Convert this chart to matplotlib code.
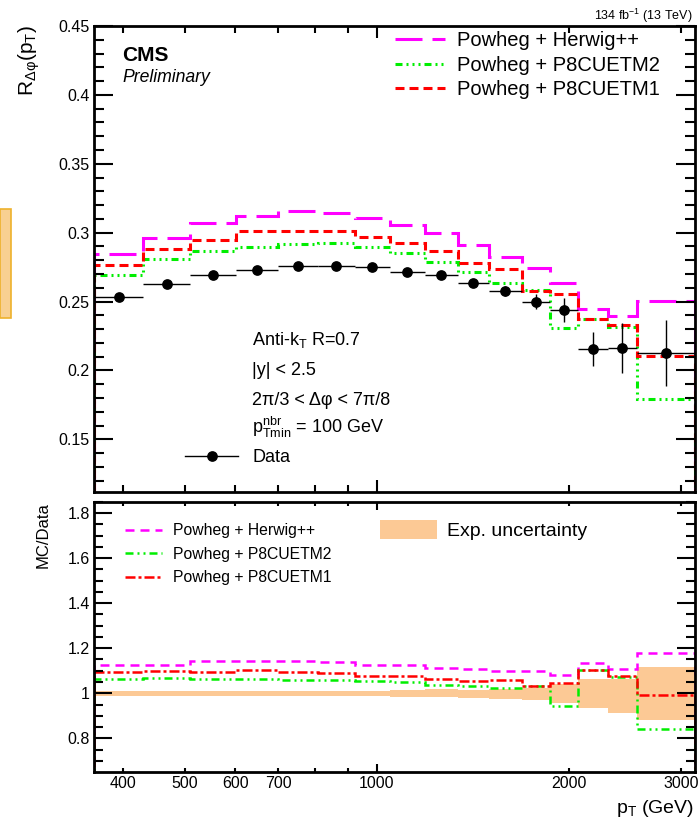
import matplotlib.pyplot as plt
import numpy as np
from matplotlib.lines import Line2D
from matplotlib.patches import Patch, Rectangle
from matplotlib.ticker import FixedLocator, FuncFormatter, MultipleLocator

plt.rcParams['font.family'] = ['Liberation Sans', 'DejaVu Sans']
plt.rcParams['mathtext.fontset'] = 'custom'
plt.rcParams['mathtext.rm'] = 'Liberation Sans'
plt.rcParams['mathtext.it'] = 'Liberation Sans:italic'
plt.rcParams['mathtext.bf'] = 'Liberation Sans:bold'

# pT bin edges (GeV)
edges = [360, 430, 509, 601, 700, 808, 924, 1048, 1189, 1340, 1498, 1688, 1868, 2067, 2304, 2557, 3154]

# measured R_dphi and stat. errors
data = [0.2531, 0.2626, 0.2693, 0.2729, 0.2758, 0.2758, 0.2753, 0.2712,
        0.2691, 0.2633, 0.2577, 0.2500, 0.2439, 0.2154, 0.2161, 0.2125]
data_err = [0.002, 0.002, 0.002, 0.002, 0.002, 0.002, 0.002, 0.002,
            0.0025, 0.003, 0.0035, 0.0052, 0.0085, 0.0123, 0.018, 0.024]

# MC predictions
herwig = [0.2843, 0.2959, 0.3073, 0.3121, 0.3157, 0.3145, 0.3104, 0.3056,
          0.2996, 0.2911, 0.2826, 0.2742, 0.2633, 0.2444, 0.2396, 0.2507]
cuetm2 = [0.2693, 0.2807, 0.2869, 0.2898, 0.2918, 0.2923, 0.2898, 0.2850,
          0.2790, 0.2717, 0.2633, 0.2582, 0.2306, 0.2376, 0.2313, 0.1791]
cuetm1 = [0.2766, 0.2880, 0.2950, 0.3010, 0.3014, 0.3010, 0.2969, 0.2925,
          0.2867, 0.2782, 0.2734, 0.2579, 0.2555, 0.2376, 0.2330, 0.2105]

# experimental uncertainty band (relative)
unc_lo = [0.990, 0.990, 0.990, 0.990, 0.990, 0.990, 0.990, 0.985,
          0.982, 0.978, 0.975, 0.970, 0.958, 0.936, 0.911, 0.881]
unc_hi = [1.010, 1.010, 1.010, 1.010, 1.010, 1.010, 1.010, 1.015,
          1.018, 1.016, 1.020, 1.022, 1.041, 1.062, 1.065, 1.118]

labels = ['Powheg + Herwig++', 'Powheg + P8CUETM2', 'Powheg + P8CUETM1']
colors = ['#ff00ff', '#00ee00', '#ff0000']

W, H = 699, 823
fig = plt.figure(figsize=(W / 100, H / 100), dpi=100)


def px_axes(l, t, r, b):
    return fig.add_axes([l / W, 1 - b / H, (r - l) / W, (b - t) / H])


def dash(lw, *px):
    # dash pattern given in pixels
    return (0, tuple(p * 0.72 / lw for p in px))


ax1 = px_axes(94, 26, 695, 491.7)
ax2 = px_axes(94, 501.7, 695, 771.7)

e = np.array(edges)
d = np.array(data)
centers = np.sqrt(e[:-1] * e[1:])

# ---- top panel
top_styles = [dash(2.2, 27, 10), dash(2.2, 7, 4, 2, 4, 2, 4, 2, 4), dash(2.2, 9, 5)]
for vals, c, ls in zip([herwig, cuetm2, cuetm1], colors, top_styles):
    ax1.stairs(vals, edges, baseline=0, color=c, lw=2.2, linestyle=ls)

ax1.errorbar(centers, data, yerr=data_err, xerr=[centers - e[:-1], e[1:] - centers],
             fmt='o', color='black', ms=6.7, elinewidth=1, capsize=0, zorder=5)

# ---- ratio panel
ax2.stairs(unc_hi, edges, baseline=unc_lo, fill=True, color='#fcc995', lw=0)
bot_styles = [dash(1.8, 9, 6), dash(1.8, 8, 4, 2, 4, 2, 4), dash(1.8, 10, 3, 3, 3)]
for vals, c, ls in zip([herwig, cuetm2, cuetm1], colors, bot_styles):
    ax2.stairs(np.array(vals) / d, edges, baseline=0, color=c, lw=1.8, linestyle=ls)

gfmt = FuncFormatter(lambda v, p: '%g' % round(v, 3))
xlab = {400, 500, 600, 700, 2000, 3000}
for ax in (ax1, ax2):
    ax.set_xscale('log')
    ax.set_xlim(edges[0], edges[-1])
    ax.xaxis.set_major_locator(FixedLocator([1000]))
    ax.xaxis.set_minor_locator(FixedLocator([400, 500, 600, 700, 800, 900, 2000, 3000]))
    ax.xaxis.set_major_formatter(FuncFormatter(lambda v, p: '%d' % v))
    ax.xaxis.set_minor_formatter(FuncFormatter(lambda v, p: '%d' % v if round(v) in xlab else ''))
    ax.yaxis.set_major_formatter(gfmt)
    ax.tick_params(which='both', direction='in', top=True, right=True, width=1.5,
                   labelsize=11.5, pad=3)
    for s in ax.spines.values():
        s.set_linewidth(2)

ax1.set_ylim(0.112, 0.45)
ax1.yaxis.set_major_locator(MultipleLocator(0.05))
ax1.yaxis.set_minor_locator(MultipleLocator(0.01))
ax1.tick_params(axis='y', which='major', length=14)
ax1.tick_params(axis='y', which='minor', length=7)
ax1.tick_params(axis='x', which='major', length=8.5)
ax1.tick_params(axis='x', which='minor', length=5)
ax1.tick_params(axis='x', which='both', labelbottom=False)

ax2.set_ylim(0.652, 1.85)
ax2.yaxis.set_major_locator(MultipleLocator(0.2))
ax2.yaxis.set_minor_locator(MultipleLocator(0.05))
ax2.tick_params(axis='y', which='major', length=13)
ax2.tick_params(axis='y', which='minor', length=6.5)
ax2.tick_params(axis='x', which='major', length=6)
ax2.tick_params(axis='x', which='minor', length=3)

# ---- legends
h_top = [Line2D([], [], color=c, lw=2.2, linestyle=ls) for c, ls in zip(colors, top_styles)]
leg1 = ax1.legend(h_top, labels, loc='upper left', bbox_to_anchor=((395 - 94) / 601, 1 - 5 / 465.7),
                  frameon=False, fontsize=14.5, handlelength=2.49, handletextpad=0.6,
                  labelspacing=0.28, borderpad=0, borderaxespad=0)
ax1.add_artist(leg1)
h_data = Line2D([], [], color='black', marker='o', ms=6.7, lw=1)
ax1.legend([h_data], ['Data'], loc='center left', bbox_to_anchor=((185 - 94) / 601, 1 - (458 - 26) / 465.7),
           frameon=False, fontsize=13, handlelength=2.94, handletextpad=0.78,
           borderpad=0, borderaxespad=0)

h_bot = [Line2D([], [], color=c, lw=1.8, linestyle=ls) for c, ls in zip(colors, bot_styles)]
leg2 = ax2.legend(h_bot, labels, loc='upper left', bbox_to_anchor=((125 - 94) / 601, 1 - (523 - 501.7) / 270),
                  frameon=False, fontsize=11.3, handlelength=2.36, handletextpad=0.7,
                  labelspacing=0.55, borderpad=0, borderaxespad=0)
ax2.add_artist(leg2)
ax2.legend([Patch(facecolor='#fcc995', lw=0)], ['Exp. uncertainty'], loc='upper left',
           bbox_to_anchor=((380 - 94) / 601, 1 - (520 - 501.7) / 270),
           frameon=False, fontsize=14, handlelength=2.94, handleheight=1.13, handletextpad=0.5,
           borderpad=0, borderaxespad=0)

# ---- texts
fig.text(122 / W, 1 - 61 / H, 'CMS', fontsize=15, fontweight='bold', va='baseline')
fig.text(122 / W, 1 - 82 / H, 'Preliminary', fontsize=12.7, style='italic', va='baseline')
fig.text(693 / W, 1 - 20 / H, r'134 fb$^{\mathrm{-1}}$ (13 TeV)', fontsize=9, ha='right', va='baseline')

fig.text(252 / W, 1 - 345 / H, r'Anti-k$_{\mathrm{T}}$ R=0.7', fontsize=13, va='baseline')
fig.text(252 / W, 1 - 375 / H, '|y| < 2.5', fontsize=13, va='baseline')
fig.text(252 / W, 1 - 405 / H, '2π/3 < Δφ < 7π/8', fontsize=13, va='baseline')
fig.text(252 / W, 1 - 433 / H, r'p$^{\mathrm{nbr}}_{\mathrm{Tmin}}$ = 100 GeV', fontsize=13, va='baseline')

fig.text(29 / W, 1 - 25 / H, r'R$_{\mathrm{Δφ}}$(p$_{\mathrm{T}}$)', fontsize=15, rotation=90,
         ha='center', va='top')
fig.text(43 / W, 1 - 502 / H, 'MC/Data', fontsize=12, rotation=90, ha='center', va='top')
fig.text(694 / W, 1 - 813 / H, r'p$_{\mathrm{T}}$ (GeV)', fontsize=14, ha='right', va='baseline')

# stray highlight box at the left edge of the original image
fig.add_artist(Rectangle((0, 1 - 318 / H), 11 / W, (318 - 209) / H, transform=fig.transFigure,
                         facecolor='#f8d091', edgecolor='#eeb12c', lw=1.2))

fig.savefig('out.png', dpi=100)
